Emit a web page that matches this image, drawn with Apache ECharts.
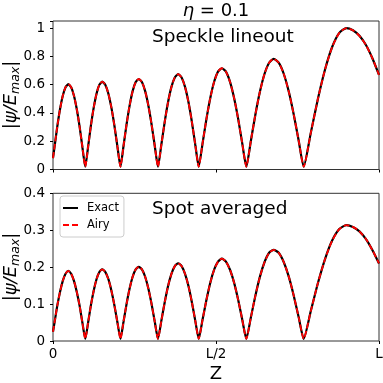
<!DOCTYPE html>
<html>
<head>
<meta charset="utf-8">
<script src="https://cdn.jsdelivr.net/npm/echarts@6/dist/echarts.min.js"></script>
<style>
  html, body { margin: 0; padding: 0; background: #fff; }
  #chart { width: 383px; height: 383px; }
</style>
</head>
<body>
<div id="chart"></div>
<script>
// z positions (fraction of L), shared by both panels
const zValues = [
  0, 0.0045, 0.013, 0.0215, 0.030, 0.0385, 0.047, 0.0557, 0.0643, 0.073, 0.0817, 0.0903, 0.099,
  0.1077, 0.1163, 0.125, 0.1337, 0.1423, 0.151, 0.1603, 0.1697, 0.179, 0.1883, 0.1977, 0.207,
  0.2163, 0.2257, 0.235, 0.2443, 0.2537, 0.263, 0.2728, 0.2827, 0.2925, 0.3023, 0.3122, 0.322,
  0.3323, 0.3427, 0.353, 0.3633, 0.3737, 0.384, 0.3945, 0.405, 0.4155, 0.426, 0.4365, 0.447,
  0.4588, 0.4707, 0.4825, 0.4943, 0.5062, 0.518, 0.5305, 0.543, 0.5555, 0.568, 0.5805, 0.593,
  0.607, 0.621, 0.635, 0.649, 0.663, 0.677, 0.6923, 0.7077, 0.723, 0.7383, 0.7537, 0.769,
  0.7908, 0.8127, 0.8345, 0.8563, 0.8782, 0.900, 0.92, 0.94, 0.96, 0.98, 1.0
]
// speckle lineout |psi/Emax|
const speckleValues = [
  0.08, 0.156, 0.302, 0.426, 0.522, 0.582, 0.603, 0.582, 0.522, 0.426, 0.302, 0.156, 0.02,
  0.161, 0.311, 0.439, 0.538, 0.600, 0.621, 0.600, 0.538, 0.439, 0.311, 0.161, 0.02,
  0.166, 0.320, 0.452, 0.554, 0.618, 0.640, 0.618, 0.554, 0.452, 0.320, 0.166, 0.02,
  0.175, 0.337, 0.477, 0.584, 0.651, 0.674, 0.651, 0.584, 0.477, 0.337, 0.175, 0.02,
  0.185, 0.358, 0.506, 0.620, 0.692, 0.716, 0.692, 0.620, 0.506, 0.358, 0.185, 0.02,
  0.203, 0.391, 0.553, 0.677, 0.755, 0.782, 0.755, 0.677, 0.553, 0.391, 0.203, 0.02,
  0.259, 0.500, 0.707, 0.866, 0.966, 1.0, 0.985, 0.945, 0.88, 0.785, 0.669
]
// spot averaged |psi/Emax|
const spotValues = [
  0.025, 0.049, 0.095, 0.133, 0.163, 0.182, 0.190, 0.182, 0.163, 0.133, 0.095, 0.049, 0.006,
  0.050, 0.097, 0.137, 0.168, 0.187, 0.194, 0.187, 0.168, 0.137, 0.097, 0.050, 0.006,
  0.052, 0.1005, 0.142, 0.174, 0.194, 0.201, 0.194, 0.174, 0.142, 0.1005, 0.052, 0.006,
  0.0545, 0.105, 0.149, 0.182, 0.203, 0.2105, 0.203, 0.182, 0.149, 0.105, 0.0545, 0.006,
  0.058, 0.1115, 0.158, 0.193, 0.215, 0.223, 0.215, 0.193, 0.158, 0.1115, 0.058, 0.006,
  0.064, 0.1235, 0.175, 0.214, 0.239, 0.247, 0.239, 0.214, 0.175, 0.1235, 0.064, 0.006,
  0.081, 0.157, 0.222, 0.272, 0.303, 0.314, 0.309, 0.297, 0.276, 0.246, 0.21
]
const xTickLabels = { 0: '0', 0.5: 'L/2', 1: 'L' }

const font = 'DejaVu Sans'
const chartInstance = echarts.init(document.getElementById('chart'))

const pairs = (vals) => zValues.map((z, i) => [z, vals[i]])

// rotated y-axis label |psi/E_max|
function yLabel(cy) {
  return {
    type: 'text',
    x: 11,
    y: cy,
    rotation: Math.PI / 2,
    style: {
      text: '{n||}{i|ψ/E}{s|max}{n||}',
      align: 'center',
      verticalAlign: 'middle',
      rich: {
        n: { fontFamily: font, fontSize: 18, fill: '#000', lineHeight: 22, verticalAlign: 'middle' },
        i: { fontFamily: font, fontSize: 18, fontStyle: 'italic', fill: '#000', lineHeight: 22, verticalAlign: 'middle' },
        s: { fontFamily: font, fontSize: 12.5, fontStyle: 'italic', fill: '#000', lineHeight: 22, verticalAlign: 'bottom' }
      }
    }
  }
}

function xAxisOf(gridIndex, showLabels) {
  return {
    type: 'value',
    gridIndex: gridIndex,
    min: 0,
    max: 1,
    interval: 0.5,
    splitLine: { show: false },
    axisLine: { show: false },
    axisTick: { show: true, length: 3, lineStyle: { color: '#000' } },
    axisLabel: {
      show: showLabels,
      margin: 6,
      fontFamily: font,
      fontSize: 13.5,
      color: '#000',
      formatter: (v) => xTickLabels[v]
    }
  }
}

function yAxisOf(gridIndex, max, interval) {
  return {
    type: 'value',
    gridIndex: gridIndex,
    min: 0,
    max: max,
    interval: interval,
    splitLine: { show: false },
    axisLine: { show: false },
    axisTick: { show: true, length: 3, lineStyle: { color: '#000' } },
    axisLabel: {
      margin: 8,
      fontFamily: font,
      fontSize: 13.5,
      color: '#000',
      formatter: (v) => (v > 1.01 ? '' : String(+v.toFixed(2)))
    }
  }
}

function lineSeries(name, data, xi, yi) {
  const exact = name === 'Exact'
  return {
    name: name,
    type: 'line',
    xAxisIndex: xi,
    yAxisIndex: yi,
    data: data,
    symbol: 'none',
    smooth: 0.2,
    z: exact ? 2 : 3,
    lineStyle: exact
      ? { color: '#000', width: 2.2 }
      : { color: '#ff0000', width: 1.8, type: [6, 2.5] },
    itemStyle: { color: exact ? '#000' : '#ff0000' }
  }
}

const option = {
  animation: false,
  grid: [
    { left: 53, right: 4, top: 21, height: 148.5, show: true, borderColor: '#333', borderWidth: 1, outerBoundsMode: 'none' },
    { left: 53, right: 4, top: 193.3, height: 147.7, show: true, borderColor: '#333', borderWidth: 1, outerBoundsMode: 'none' }
  ],
  legend: {
    data: [
      { name: 'Exact', icon: 'path://M0,0h15v2h-15z' },
      { name: 'Airy', icon: 'path://M0,0h6v2h-6z M9,0h6v2h-6z' }
    ],
    orient: 'vertical',
    left: 60,
    top: 196,
    itemWidth: 15,
    itemHeight: 2,
    itemGap: 5,
    padding: [6, 5, 6, 3],
    borderColor: '#ccc',
    borderWidth: 1,
    borderRadius: 3,
    textStyle: { fontFamily: font, fontSize: 11.5, color: '#000', padding: [0, 0, 0, 4] }
  },
  xAxis: [
    xAxisOf(0, false),
    Object.assign(xAxisOf(1, true), {
      name: 'Z',
      nameLocation: 'middle',
      nameGap: 24,
      nameTextStyle: { fontFamily: font, fontSize: 18, color: '#000' }
    })
  ],
  yAxis: [
    yAxisOf(0, 1.05, 0.2),
    yAxisOf(1, 0.4, 0.1)
  ],
  graphic: [
    {
      type: 'text', x: 216, y: 11,
      style: {
        text: '{i|η} = 0.1',
        font: '18px "DejaVu Sans"',
        fill: '#000',
        align: 'center',
        verticalAlign: 'middle',
        rich: { i: { fontFamily: font, fontSize: 18, fontStyle: 'italic', fill: '#000' } }
      }
    },
    { type: 'text', x: 152, y: 37.5, style: { text: 'Speckle lineout', font: '18.5px "DejaVu Sans"', fill: '#000', verticalAlign: 'middle' } },
    { type: 'text', x: 152, y: 209.5, style: { text: 'Spot averaged', font: '18.5px "DejaVu Sans"', fill: '#000', verticalAlign: 'middle' } },
    yLabel(95),
    yLabel(267)
  ],
  series: [
    lineSeries('Exact', pairs(speckleValues), 0, 0),
    lineSeries('Airy', pairs(speckleValues), 0, 0),
    lineSeries('Exact', pairs(spotValues), 1, 1),
    lineSeries('Airy', pairs(spotValues), 1, 1)
  ]
}
chartInstance.setOption(option)
</script>
</body>
</html>
